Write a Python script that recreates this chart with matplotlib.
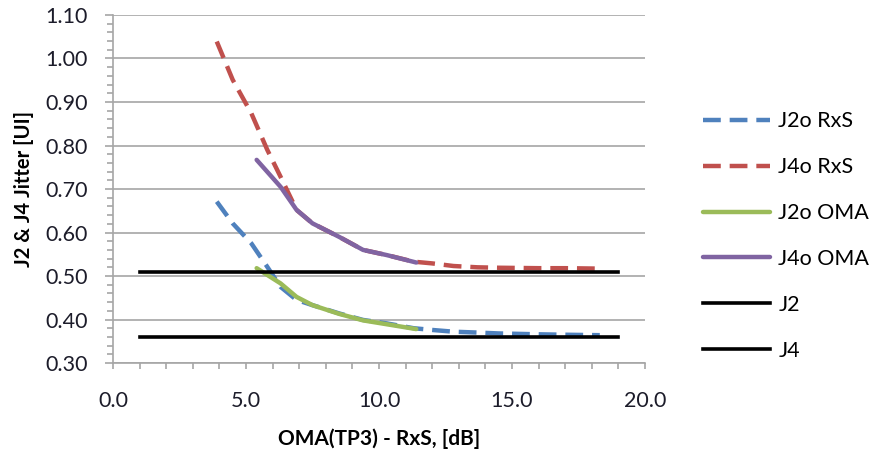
import matplotlib.pyplot as plt
from matplotlib.ticker import MultipleLocator, FormatStrFormatter

plt.rcParams['font.family'] = ['Lato', 'DejaVu Sans']

# RxS sweep (dashed series)
rxs_x = [3.9, 4.5, 5.2, 5.8, 6.3, 6.9, 7.5, 8.5, 9.4, 10.3, 11.3, 12.0, 12.8, 13.7, 14.5, 16.0, 17.0, 18.3]
j2o_rxs = [0.671, 0.621, 0.575, 0.521, 0.475, 0.445, 0.433, 0.414, 0.399, 0.391, 0.380, 0.376, 0.372, 0.370, 0.368, 0.366, 0.365, 0.364]
j4o_rxs = [1.039, 0.951, 0.874, 0.790, 0.728, 0.652, 0.621, 0.590, 0.560, 0.548, 0.533, 0.529, 0.523, 0.520, 0.519, 0.518, 0.518, 0.517]

# OMA sweep (solid series)
oma_x = [5.4, 6.3, 6.9, 7.5, 8.5, 9.4, 10.3, 11.4]
j2o_oma = [0.518, 0.483, 0.452, 0.433, 0.413, 0.398, 0.389, 0.378]
j4o_oma = [0.767, 0.705, 0.652, 0.621, 0.590, 0.560, 0.548, 0.531]

# limits
limit_x = [1, 19]
j2_limit = [0.36, 0.36]
j4_limit = [0.51, 0.51]

fig = plt.figure(figsize=(8.74, 4.49), dpi=100)
ax = fig.add_axes([0.1293, 0.1915, 0.6087, 0.7751])

dash = (4.0, 2.0)
ax.plot(rxs_x, j2o_rxs, color='#4F81BD', lw=3.2, dashes=dash, label='J2o RxS')
ax.plot(rxs_x, j4o_rxs, color='#C0504D', lw=3.2, dashes=dash, label='J4o RxS')
ax.plot(oma_x, j2o_oma, color='#9BBB59', lw=3.2, solid_capstyle='round', solid_joinstyle='round', label='J2o OMA')
ax.plot(oma_x, j4o_oma, color='#8064A2', lw=3.2, solid_capstyle='round', solid_joinstyle='round', label='J4o OMA')
ax.plot(limit_x, j2_limit, color='black', lw=2.6, label='J2')
ax.plot(limit_x, j4_limit, color='black', lw=2.6, label='J4')

ax.set_xlim(0, 20)
ax.set_ylim(0.30, 1.10)
ax.xaxis.set_major_locator(MultipleLocator(5))
ax.xaxis.set_minor_locator(MultipleLocator(1))
ax.yaxis.set_major_locator(MultipleLocator(0.1))
ax.yaxis.set_minor_locator(MultipleLocator(0.02))
ax.xaxis.set_major_formatter(FormatStrFormatter('%.1f'))
ax.yaxis.set_major_formatter(FormatStrFormatter('%.2f'))

grid_col = '#A6A6A6'
ax.grid(axis='y', which='major', color=grid_col, lw=1.2)
ax.set_axisbelow(True)
for s in ['top', 'right']:
    ax.spines[s].set_visible(False)
for s in ['left', 'bottom']:
    ax.spines[s].set_color(grid_col)
    ax.spines[s].set_linewidth(1.2)

ax.tick_params(axis='both', which='both', color=grid_col, width=1.2, labelsize=15.5, labelcolor='#1c1c2a')
ax.tick_params(axis='y', which='major', length=6, pad=12)
ax.tick_params(axis='y', which='minor', length=4.5)
ax.tick_params(axis='x', which='both', length=4.5, pad=16)

ax.set_xlabel('OMA(TP3) - RxS, [dB]', fontsize=15, fontweight='bold', labelpad=12)
ax.set_ylabel('J2 & J4 Jitter [UI]', fontsize=14.5, fontweight='bold', labelpad=8)

fig.legend(loc='center left', bbox_to_anchor=(0.8043, 0.4744), frameon=False,
           fontsize=15.5, handlelength=3.1, handletextpad=0.4, labelspacing=1.2,
           borderpad=0, borderaxespad=0)

fig.savefig('out.png', dpi=100)
